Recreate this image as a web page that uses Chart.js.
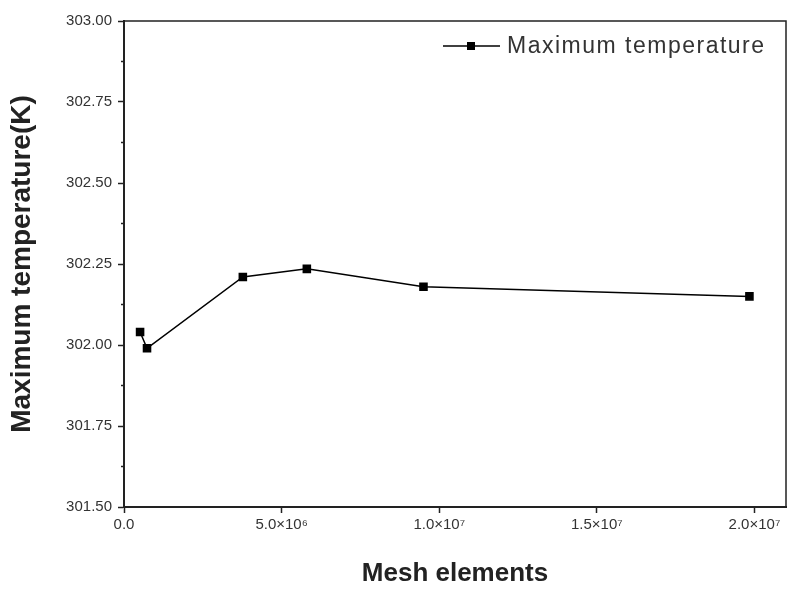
<!DOCTYPE html>
<html>
<head>
<meta charset="utf-8">
<script src="https://cdn.jsdelivr.net/npm/chart.js@4"></script>
<style>
  html, body { margin: 0; padding: 0; background: #fff; }
  #wrap { width: 794px; height: 589px; }
</style>
</head>
<body>
<div id="wrap"><canvas id="canvas" width="794" height="589"></canvas></div>
<script>
"use strict";

// mesh element counts and max temperatures
var meshElements = [0.51e6, 0.73e6, 3.77e6, 5.8e6, 9.5e6, 19.84e6];
var maxTemp = [302.04, 301.99, 302.21, 302.235, 302.18, 302.15];

var xTickLabels = { 0: '0.0', 5000000: '5.0×10⁶', 10000000: '1.0×10⁷', 15000000: '1.5×10⁷', 20000000: '2.0×10⁷' };
var yTicks = [301.5, 301.75, 302.0, 302.25, 302.5, 302.75, 303.0];
var seriesLabel = 'Maximum temperature';

var axisColor = '#222';

// box on top/right, minor ticks on y, legend inside the plot
var framePlugin = {
  id: 'frame',
  afterDraw: function(chart) {
    var ctx = chart.ctx, a = chart.chartArea;
    var ys = chart.scales.y;
    ctx.save();
    ctx.strokeStyle = axisColor;
    ctx.lineWidth = 1.5;
    ctx.beginPath();
    ctx.moveTo(a.left, a.top);
    ctx.lineTo(a.right, a.top);
    ctx.lineTo(a.right, a.bottom);
    ctx.stroke();

    // minor ticks halfway between labels
    for (var i = 0; i < yTicks.length - 1; i++) {
      var py = ys.getPixelForValue((yTicks[i] + yTicks[i + 1]) / 2);
      ctx.beginPath();
      ctx.moveTo(a.left - 3, py);
      ctx.lineTo(a.left, py);
      ctx.stroke();
    }

    // legend
    var lx = a.right - 343, ly = a.top + 25;
    ctx.strokeStyle = '#000';
    ctx.lineWidth = 1.5;
    ctx.beginPath();
    ctx.moveTo(lx, ly);
    ctx.lineTo(lx + 57, ly);
    ctx.stroke();
    ctx.fillStyle = '#000';
    ctx.fillRect(lx + 24, ly - 4, 8, 8);
    ctx.fillStyle = '#333';
    ctx.font = '23px "Liberation Sans", Arial, sans-serif';
    ctx.letterSpacing = '1.5px';
    ctx.textBaseline = 'middle';
    ctx.textAlign = 'left';
    ctx.fillText(seriesLabel, lx + 64, ly + 1);
    ctx.restore();
  }
};

var ctx = document.getElementById('canvas').getContext('2d');
window.myChart = new Chart(ctx, {
  type: 'line',
  data: {
    datasets: [{
      label: seriesLabel,
      data: meshElements.map(function(x, i) { return { x: x, y: maxTemp[i] }; }),
      borderColor: '#000',
      backgroundColor: '#000',
      borderWidth: 1.5,
      pointStyle: 'rect',
      pointRadius: 5,
      tension: 0
    }]
  },
  options: {
    responsive: false,
    animation: false,
    layout: { padding: { top: 21, right: 8, left: 0, bottom: 0 } },
    plugins: {
      legend: { display: false },
      tooltip: { enabled: false }
    },
    scales: {
      x: {
        type: 'linear',
        min: 0,
        max: 21000000,
        afterFit: function(s) { s.height = 82; },
        afterBuildTicks: function(s) {
          s.ticks = Object.keys(xTickLabels).map(function(v) { return { value: +v }; });
        },
        ticks: {
          color: '#333',
          font: { family: '"Liberation Sans", Arial, sans-serif', size: 15 },
          padding: 3,
          maxRotation: 0,
          callback: function(v) { return xTickLabels[v]; }
        },
        grid: { drawOnChartArea: false, drawTicks: true, tickLength: 6, tickColor: axisColor, tickWidth: 1.5 },
        border: { color: axisColor, width: 2 },
        title: {
          display: true,
          text: 'Mesh elements',
          color: '#222',
          font: { family: '"Liberation Sans", Arial, sans-serif', size: 26, weight: 'bold' },
          padding: { top: 4, bottom: 0 }
        }
      },
      y: {
        min: 301.5,
        max: 303.0,
        afterFit: function(s) { s.width = 124; },
        afterBuildTicks: function(s) {
          s.ticks = yTicks.map(function(v) { return { value: v }; });
        },
        ticks: {
          color: '#333',
          font: { family: '"Liberation Sans", Arial, sans-serif', size: 15 },
          padding: 6,
          callback: function(v) { return v.toFixed(2); }
        },
        grid: { drawOnChartArea: false, drawTicks: true, tickLength: 6, tickColor: axisColor, tickWidth: 1.5 },
        border: { color: axisColor, width: 2 },
        title: {
          display: true,
          text: 'Maximum temperature(K)',
          color: '#222',
          font: { family: '"Liberation Sans", Arial, sans-serif', size: 28, weight: 'bold' },
          padding: { top: 5, bottom: 4 }
        }
      }
    }
  },
  plugins: [framePlugin]
});
</script>
</body>
</html>
